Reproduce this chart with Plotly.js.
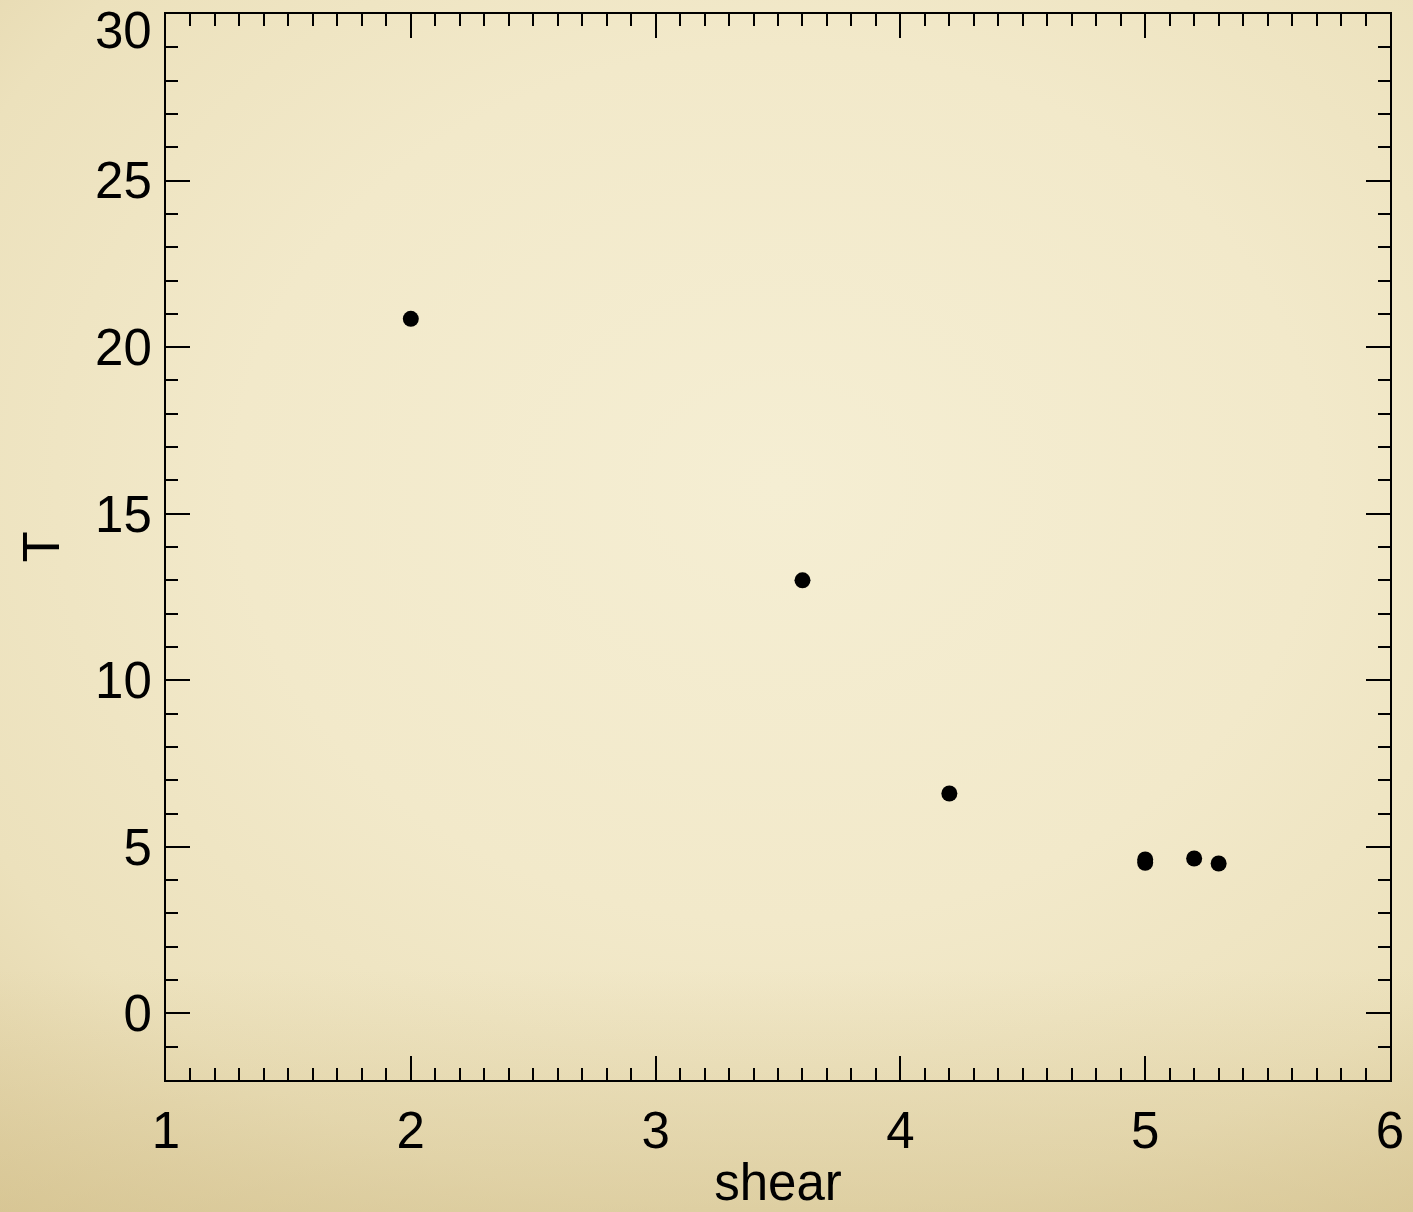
<!DOCTYPE html>
<html>
<head>
<meta charset="utf-8">
<script src="https://cdn.plot.ly/plotly-3.0.1.min.js"></script>
<style>
html, body { margin:0; padding:0; width:1413px; height:1212px; overflow:hidden; }
body {
  background:
    linear-gradient(to bottom, rgba(0,0,0,0) 0%, rgba(0,0,0,0) 80%, rgba(205,185,130,0.45) 100%),
    radial-gradient(ellipse 85% 80% at 55% 40%, #f5eed3 0%, #f2e9ca 45%, #ece1bc 75%, #e0d0a3 100%);
}
#chart { width:1413px; height:1212px; }
</style>
</head>
<body>
<div id="chart"></div>
<script>
// Data
const shear = [2.0, 3.6, 4.2, 5.0, 5.0, 5.2, 5.3];
const T = [20.85, 13.0, 6.6, 4.52, 4.62, 4.65, 4.5];

const xTickVals = [1, 2, 3, 4, 5, 6];
const yTickVals = [0, 5, 10, 15, 20, 25, 30];
const yTickText = ['0', '5', '10', '15', '20', '25', ''];
const yTopLabel = '30';

const font = {family: 'Liberation Sans, Arial, Helvetica, sans-serif', size: 51, color: '#000'};

const trace = {
  x: shear, y: T, type: 'scatter', mode: 'markers',
  marker: {color: '#000', size: 16, line: {width: 0}},
  showlegend: false, hoverinfo: 'x+y'
};

const layout = {
  width: 1413, height: 1212,
  margin: {l: 166, r: 23, t: 14, b: 132, pad: 0},
  paper_bgcolor: 'rgba(0,0,0,0)',
  plot_bgcolor: 'rgba(0,0,0,0)',
  font: font,
  xaxis: {
    range: [1, 6], tickvals: xTickVals, ticktext: xTickVals.map(String),
    ticks: 'inside', ticklen: 24, tickwidth: 2, tickcolor: '#000',
    showline: true, linewidth: 2, linecolor: '#000', mirror: 'ticks',
    showgrid: false, zeroline: false, tickfont: font,
    ticklabelstandoff: 5, ticklabeloverflow: 'allow',
    minor: {dtick: 0.1, tick0: 1, ticks: 'inside', ticklen: 12, tickwidth: 2, tickcolor: '#000', showgrid: false},
    title: {text: 'shear', font: font, standoff: 6},
    automargin: false
  },
  yaxis: {
    range: [-2, 30], tickvals: yTickVals, ticktext: yTickText,
    ticks: 'inside', ticklen: 24, tickwidth: 2, tickcolor: '#000',
    showline: true, linewidth: 2, linecolor: '#000', mirror: 'ticks',
    showgrid: false, zeroline: false, tickfont: font,
    ticklabelstandoff: 2, ticklabeloverflow: 'allow',
    minor: {dtick: 1, tick0: 0, ticks: 'inside', ticklen: 12, tickwidth: 2, tickcolor: '#000', showgrid: false},
    title: {text: 'T', font: font, standoff: 19},
    automargin: false
  },
  annotations: [{
    text: yTopLabel, xref: 'paper', yref: 'y', x: 0, y: yTickVals[yTickVals.length - 1],
    xanchor: 'right', yanchor: 'top', xshift: -13, yshift: 13,
    showarrow: false, font: font, borderpad: 0
  }]
};

Plotly.newPlot('chart', [trace], layout, {displayModeBar: false, staticPlot: true});
</script>
</body>
</html>
